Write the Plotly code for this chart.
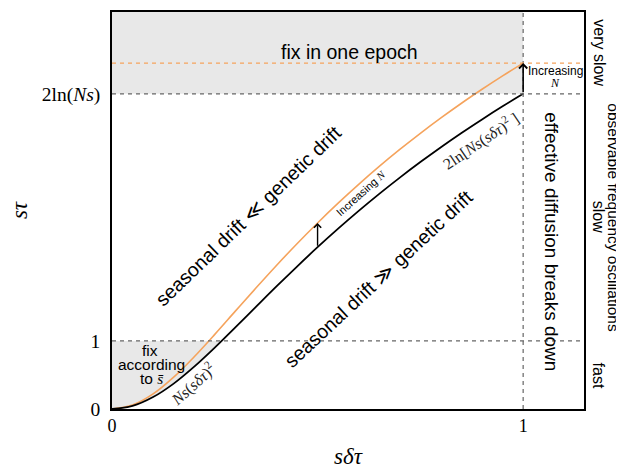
import numpy as np
import plotly.graph_objects as go

# ---- data ----
x_vals = [0.0, 0.05, 0.1, 0.15, 0.2, 0.25, 0.3, 0.35, 0.4, 0.45, 0.5,
          0.55, 0.6, 0.65, 0.7, 0.75, 0.8, 0.85, 0.9, 0.95, 1.0]
black_curve = [0.0, 0.045, 0.175, 0.373, 0.622, 0.902, 1.199, 1.500, 1.800, 2.092, 2.376,
               2.648, 2.909, 3.159, 3.398, 3.626, 3.845, 4.054, 4.253, 4.445, 4.629]
orange_curve = [0.0, 0.058, 0.221, 0.467, 0.767, 1.096, 1.437, 1.776, 2.108, 2.427, 2.732,
                3.023, 3.299, 3.562, 3.811, 4.048, 4.274, 4.490, 4.695, 4.892, 5.080]

x_tick_vals = [0, 1]
x_tick_text = ["0", "1"]
y_tick_vals = [0, 1, 4.629]
y_tick_text = ["0", "1", "2ln(<i>Ns</i>)"]

X_MAX = 1.148
Y_MAX = 5.83
X_BREAK = 1.0
Y_ONE = 1.0
Y_2LN = 4.629
Y_ORANGE_TOP = 5.080
ARROW_X = 0.5

ORANGE = "#f5a35c"
GREY_FILL = "#e8e8e8"
DASH_GREY = "#666666"
SANS = "Liberation Sans, Arial, sans-serif"
SERIF = "Liberation Serif, DejaVu Serif, serif"

fig = go.Figure()

# shaded region below y=1 left of the black curve
bx = np.array(x_vals)
by = np.array(black_curve)
x_cross = float(np.interp(Y_ONE, by, bx))
mask = by <= Y_ONE
fx = list(bx[mask]) + [x_cross, 0.0]
fy = list(by[mask]) + [Y_ONE, Y_ONE]
fig.add_trace(go.Scatter(x=fx, y=fy, fill="toself", fillcolor=GREY_FILL,
                         line=dict(width=0), mode="lines", hoverinfo="skip",
                         showlegend=False))

# curves
fig.add_trace(go.Scatter(x=x_vals, y=orange_curve, mode="lines",
                         line=dict(color=ORANGE, width=1.6, shape="spline"),
                         showlegend=False))
fig.add_trace(go.Scatter(x=x_vals, y=black_curve, mode="lines",
                         line=dict(color="black", width=1.8, shape="spline"),
                         showlegend=False))

shapes = [
    dict(type="rect", x0=0, x1=X_BREAK, y0=Y_2LN, y1=Y_MAX, fillcolor=GREY_FILL,
         line=dict(width=0), layer="below"),
    dict(type="line", x0=0, x1=X_MAX, y0=Y_ONE, y1=Y_ONE,
         line=dict(color=DASH_GREY, width=1.2, dash="4px,4px")),
    dict(type="line", x0=0, x1=X_MAX, y0=Y_2LN, y1=Y_2LN,
         line=dict(color=DASH_GREY, width=1.2, dash="4px,4px")),
    dict(type="line", x0=X_BREAK, x1=X_BREAK, y0=0, y1=Y_MAX,
         line=dict(color=DASH_GREY, width=1.2, dash="4px,4px")),
    dict(type="line", x0=0, x1=X_MAX, y0=Y_ORANGE_TOP, y1=Y_ORANGE_TOP,
         line=dict(color=ORANGE, width=1.2, dash="4px,4px")),
]

i_mid = x_vals.index(ARROW_X)
ann = [
    # arrows
    dict(x=X_BREAK, y=orange_curve[-1], ax=X_BREAK, ay=black_curve[-1],
         xref="x", yref="y", axref="x", ayref="y", text="", showarrow=True,
         arrowhead=4, arrowsize=1, arrowwidth=1.6, arrowcolor="black", standoff=0),
    dict(x=ARROW_X, y=orange_curve[i_mid], ax=ARROW_X, ay=black_curve[i_mid],
         xref="x", yref="y", axref="x", ayref="y", text="", showarrow=True,
         arrowhead=4, arrowsize=1, arrowwidth=1.4, arrowcolor="black", standoff=0),
    # labels in plot
    dict(x=0.577, y=5.24, text="fix in one epoch", font=dict(family=SANS, size=19.5)),
    dict(x=0.331, y=2.83, text="seasonal drift ≪ genetic drift", textangle=-44,
         font=dict(family=SANS, size=19.5)),
    dict(x=0.647, y=1.91, text="seasonal drift ≫ genetic drift", textangle=-43,
         font=dict(family=SANS, size=19.5)),
    dict(x=1.070, y=2.45, text="effective diffusion breaks down", textangle=90,
         font=dict(family=SANS, size=19)),
    dict(x=0.092, y=0.86, text="fix", font=dict(family=SANS, size=15.5)),
    dict(x=0.097, y=0.655, text="according", font=dict(family=SANS, size=15.5)),
    dict(x=0.097, y=0.445,
         text="to <span style='font-family:Liberation Serif'><i>s̄</i></span>",
         font=dict(family=SANS, size=15.5)),
    dict(x=0.606, y=3.17,
         text="Increasing <span style='font-family:Liberation Serif'><i>N</i></span>",
         textangle=-42, font=dict(family=SANS, size=11)),
    dict(x=1.078, y=4.96, text="Increasing", font=dict(family=SANS, size=12)),
    dict(x=1.078, y=4.79, text="<i>N</i>", font=dict(family=SERIF, size=12)),
    dict(x=0.198, y=0.37, text="<i>Ns</i>(<i>sδτ</i>)<sup>2</sup>", textangle=-42,
         font=dict(family=SERIF, size=16, color="#222")),
    dict(x=0.897, y=3.94, text="2ln[<i>Ns</i>(<i>sδτ</i>)<sup>2</sup> ]", textangle=-34,
         font=dict(family=SERIF, size=16, color="#222")),
    # right side labels (paper coords)
    dict(x=1.031, y=0.897, xref="paper", yref="paper", text="very slow", textangle=90,
         font=dict(family=SANS, size=16)),
    dict(x=1.063, y=0.481, xref="paper", yref="paper",
         text="observable frequency oscillations", textangle=90,
         font=dict(family=SANS, size=15.5)),
    dict(x=1.030, y=0.484, xref="paper", yref="paper", text="slow", textangle=90,
         font=dict(family=SANS, size=16)),
    dict(x=1.031, y=0.085, xref="paper", yref="paper", text="fast", textangle=90,
         font=dict(family=SANS, size=16)),
    # axis titles
    dict(x=0.5, y=-0.12, xref="paper", yref="paper", text="<i>sδτ</i>",
         font=dict(family=SERIF, size=23)),
    dict(x=-0.197, y=0.501, xref="paper", yref="paper", text="<i>sτ</i>", textangle=-90,
         font=dict(family=SERIF, size=23)),
]
for a in ann:
    a.setdefault("xref", "x")
    a.setdefault("yref", "y")
    a.setdefault("showarrow", False)
    a.setdefault("xanchor", "center")
    a.setdefault("yanchor", "middle")
    if "font" in a:
        a["font"].setdefault("color", "black")

# the page body adds an 8px margin on the left/top, so the figure is offset by 8px
fig.update_layout(
    width=616, height=460,
    margin=dict(l=104, r=40, t=2, b=59),
    paper_bgcolor="white", plot_bgcolor="white",
    shapes=shapes, annotations=ann,
    showlegend=False,
    xaxis=dict(range=[0, X_MAX], tickvals=x_tick_vals, ticktext=x_tick_text,
               showgrid=False, zeroline=False, showline=True, mirror=True,
               linecolor="black", linewidth=1.6, ticks="",
               tickfont=dict(family=SERIF, size=18, color="black")),
    yaxis=dict(range=[0, Y_MAX], tickvals=y_tick_vals, ticktext=y_tick_text,
               showgrid=False, zeroline=False, showline=True, mirror=True,
               linecolor="black", linewidth=1.6, ticks="", ticklabelstandoff=6,
               tickfont=dict(family=SERIF, size=19.5, color="black")),
)

fig.write_html("out.html")
